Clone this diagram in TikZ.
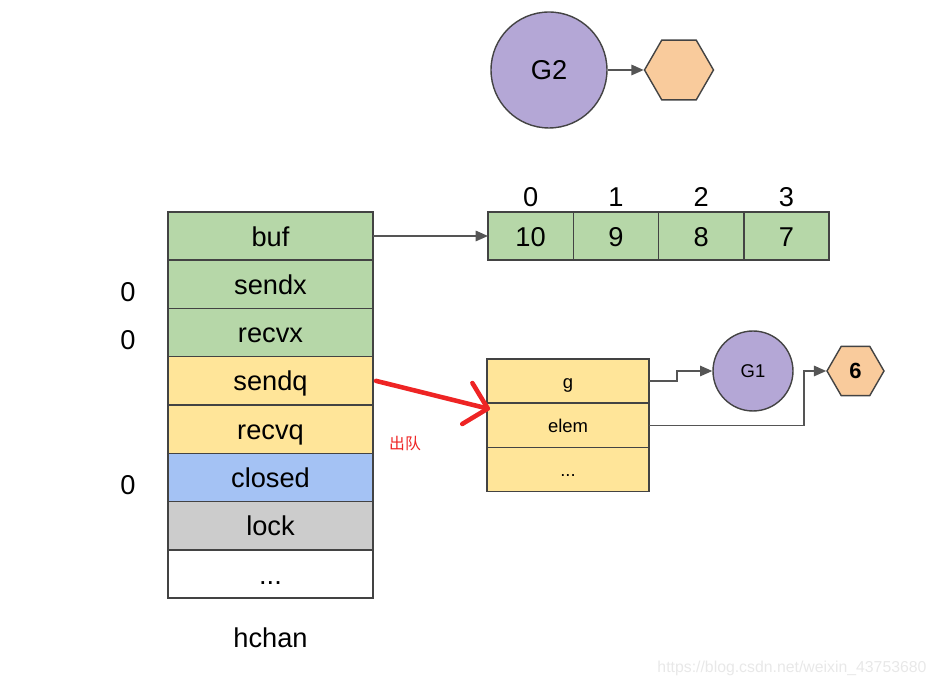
\documentclass[tikz,border=0pt]{standalone}
\usepackage{fontspec}
\setmainfont{Liberation Sans}
\newfontfamily\cjkfont{Noto Sans CJK SC}
\usetikzlibrary{positioning,calc,shapes.geometric,arrows.meta}

\definecolor{fieldgreen}{HTML}{B6D7A8}
\definecolor{fieldyellow}{HTML}{FFE599}
\definecolor{fieldblue}{HTML}{A4C2F4}
\definecolor{fieldgray}{HTML}{CCCCCC}
\definecolor{gpurple}{HTML}{B4A7D6}
\definecolor{horange}{HTML}{F9CB9C}
\definecolor{edgegray}{HTML}{434343}
\definecolor{linkgray}{HTML}{555555}
\definecolor{markred}{HTML}{EE2424}

\newcommand\bigtxt{\fontsize{15.5}{18}\selectfont}
\newcommand\smalltxt{\fontsize{10.5}{12}\selectfont}

\tikzset{
  field/.style={draw=edgegray, line width=0.8pt, outer sep=0pt, minimum width=4.1cm, minimum height=0.966cm, inner sep=0pt, text height=12.5pt, text depth=1pt, font=\bigtxt},
  cell/.style={draw=edgegray, fill=fieldgreen, line width=0.8pt, outer sep=0pt, minimum width=1.706cm, minimum height=0.96cm, inner sep=0pt, text height=12.5pt, text depth=1pt, font=\bigtxt},
  slot/.style={draw=edgegray, fill=fieldyellow, line width=0.8pt, outer sep=0pt, minimum width=3.24cm, minimum height=0.886cm, inner sep=0pt, text height=9pt, text depth=0.7pt, font=\smalltxt},
  gor/.style={circle, draw=edgegray, fill=gpurple, line width=0.8pt, inner sep=0pt},
  hexa/.style={regular polygon, regular polygon sides=6, draw=edgegray, fill=horange, line width=0.8pt, inner sep=0pt},
  link/.style={draw=linkgray, line width=0.8pt, -{Triangle[length=7pt,width=6pt]}},
}

\begin{document}
\begin{tikzpicture}[x=0.02cm, y=-0.02cm]
  \useasboundingbox (0,0) rectangle (938,688);

  %% G2 waiting
  \node[gor, minimum size=2.32cm, font=\bigtxt] (G2) at (549,70) {G2};
  \node[hexa, minimum size=1.38cm] (h2) at (679,70) {};
  \draw[link] (G2) -- (h2);

  %% hchan
  \node[field, fill=fieldgreen] (buf) at (270.5,236) {buf};
  \node[field, fill=fieldgreen, below=0pt of buf] (sendx) {sendx};
  \node[field, fill=fieldgreen, below=0pt of sendx] (recvx) {recvx};
  \node[field, fill=fieldyellow, below=0pt of recvx] (sendq) {sendq};
  \node[field, fill=fieldyellow, below=0pt of sendq] (recvq) {recvq};
  \node[field, fill=fieldblue, below=0pt of recvq] (closed) {closed};
  \node[field, fill=fieldgray, below=0pt of closed] (lock) {lock};
  \node[field, fill=white, below=0pt of lock] (rest) {...};
  \node[font=\bigtxt] (hchan) at ([yshift=-0.8cm]rest.south) {hchan};

  \node[font=\bigtxt] (nsendx) at ([xshift=-0.8cm,yshift=-0.16cm]sendx.west) {0};
  \node[font=\bigtxt] (nrecvx) at ([xshift=-0.8cm,yshift=-0.16cm]recvx.west) {0};
  \node[font=\bigtxt] (nclosed) at ([xshift=-0.8cm,yshift=-0.16cm]closed.west) {0};

  %% ring buffer
  \node[cell] (b0) at (530.6,236) {10};
  \node[cell, right=0pt of b0] (b1) {9};
  \node[cell, right=0pt of b1] (b2) {8};
  \node[cell, right=0pt of b2] (b3) {7};
  \foreach \i in {0,...,3}
    \node[font=\bigtxt, inner sep=1pt, above=2pt of b\i] (i\i) {\i};
  \draw[link] (buf.east) -- (b0.west);

  %% sudog
  \node[slot] (g) at (568,381) {g};
  \node[slot, below=0pt of g] (elem) {elem};
  \node[slot, below=0pt of elem] (more) {...};

  \node[gor, minimum size=1.6cm, font=\smalltxt] (G1) at (753,371) {G1};
  \node[hexa, minimum size=1.14cm, font=\fontsize{12.5}{14}\selectfont\bfseries] (h1) at (855.5,371) {6};
  \draw[link] (g.east) -- ++(0.56cm,0) |- (G1.west);
  \draw[link] (elem.east) -| ([xshift=-0.44cm]h1.west) -- (h1.west);

  %% dequeue mark
  \draw[markred, line width=2.6pt, line cap=round,
        -{Straight Barb[length=12pt,width=24pt,round]}]
    ([xshift=0.06cm]sendq.east) -- ($(elem.north west)+(3,6)$);
  \node[markred, font=\cjkfont\fontsize{9}{10}\selectfont] (deq) at (405,444) {出队};

  \node[black!9, font=\fontsize{9}{10}\selectfont] (mark) at (792,668) {https://blog.csdn.net/weixin\_43753680};
\end{tikzpicture}
\end{document}
